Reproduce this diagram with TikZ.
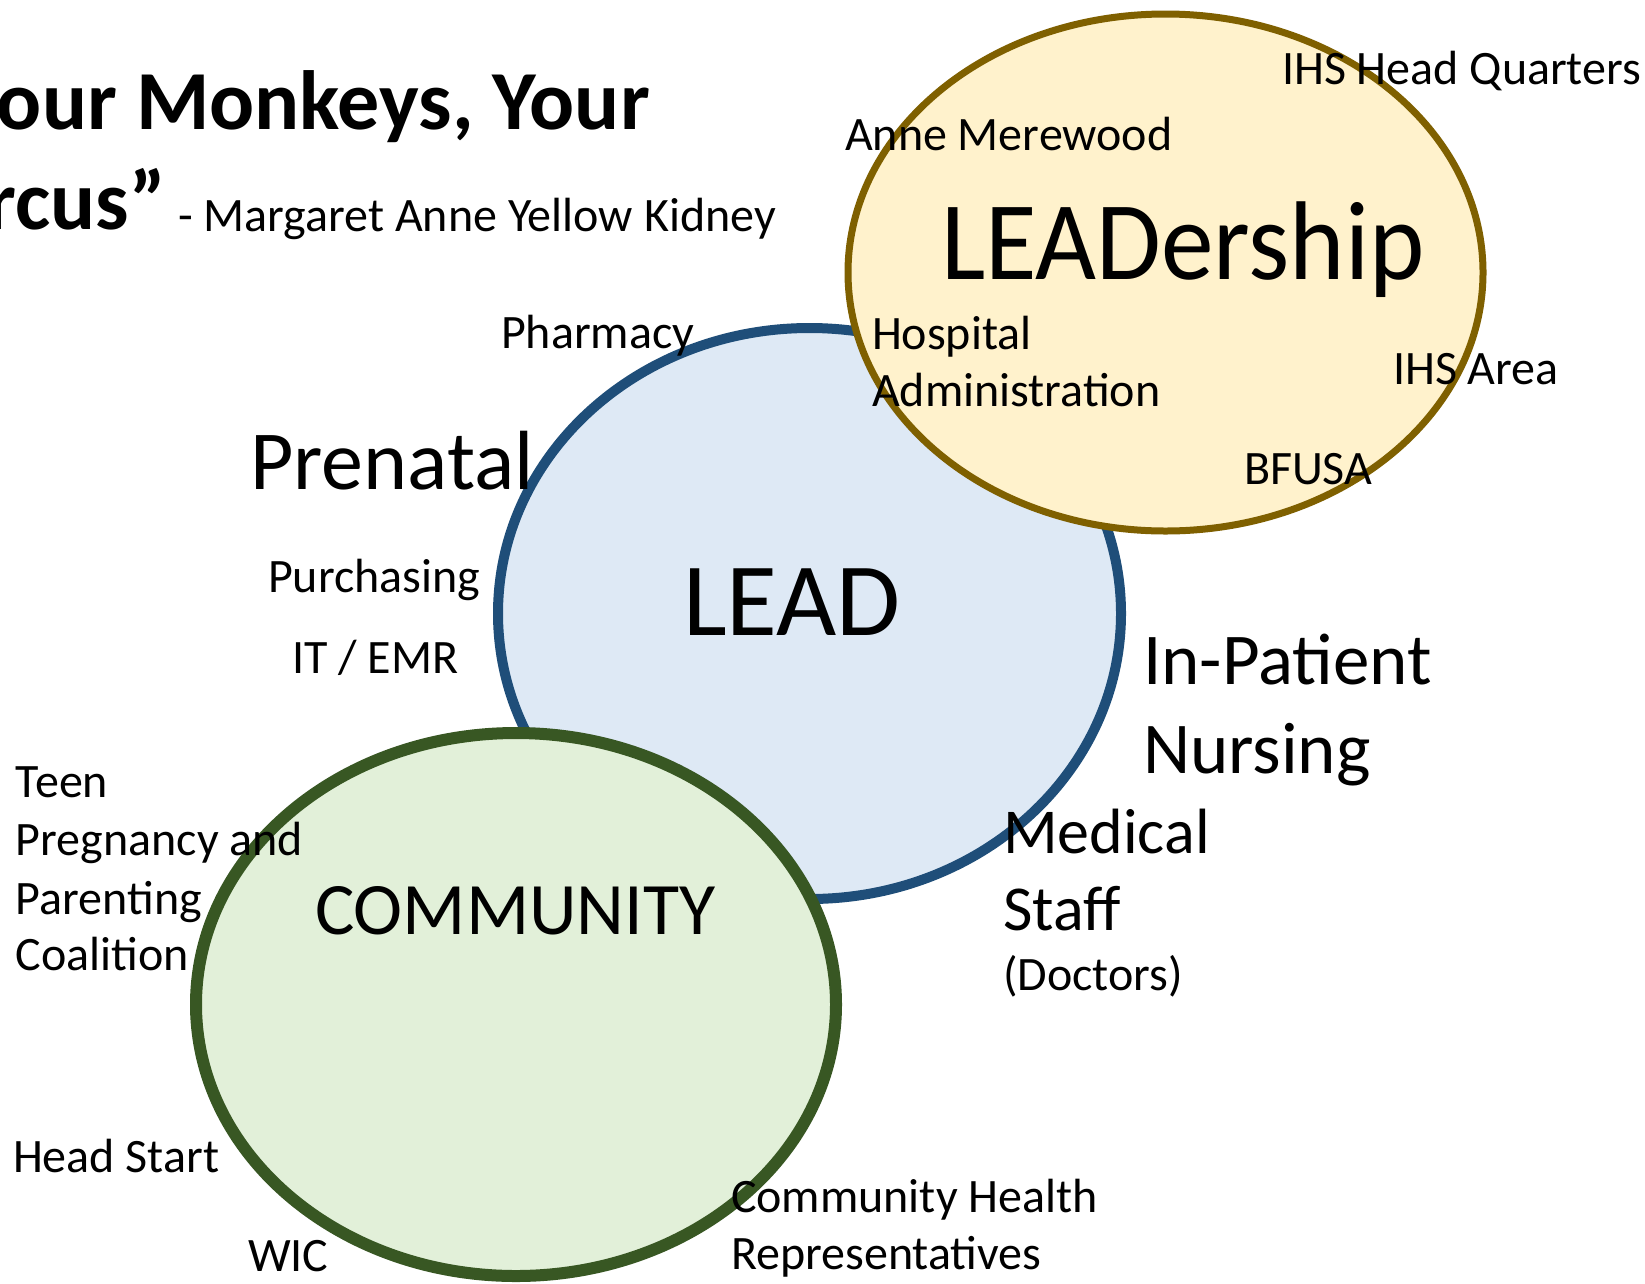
\documentclass[tikz,border=0pt]{standalone}
\usepackage{fontspec}
\setmainfont{Carlito}
\usepackage{xcolor}
\usetikzlibrary{positioning}

\definecolor{leadline}{HTML}{1F4E79}
\definecolor{leadfill}{HTML}{DEE9F5}
\definecolor{shipline}{HTML}{7F6000}
\definecolor{shipfill}{HTML}{FFF2CC}
\definecolor{commline}{HTML}{385723}
\definecolor{commfill}{HTML}{E2F0D9}

\tikzset{
  txt/.style={anchor=base west, inner sep=0pt, outer sep=0pt},
  smalltxt/.style={txt, font=\fontsize{48}{58}\selectfont},
  midtxt/.style={txt, font=\fontsize{73}{89}\selectfont},
}

\begin{document}
\begin{tikzpicture}[x=1pt, y=-1pt]

		\useasboundingbox (0, 0) rectangle (1645, 1283);

		% the three circles
		\draw[leadline, line width=10pt, fill=leadfill] (809.5, 613.5) ellipse (311.5 and 285.5);
		\draw[shipline, line width=7pt, fill=shipfill] (1165.5, 272.5) ellipse (317.5 and 258.5);
		\draw[commline, line width=12pt, fill=commfill] (516, 1004.5) ellipse (320 and 271.5);

		% quote
		\node[txt, font=\fontsize{84}{100}\selectfont\bfseries] (quote1) at (-3, 129) {our Monkeys, Your};
		\node[txt, font=\fontsize{84}{100}\selectfont\bfseries] (quote2) at (-13, 229) {rcus”};
		\node[txt, font=\fontsize{48}{58}\selectfont] (who) at (178, 231) {- Margaret Anne Yellow Kidney};

		% circle titles
		\node[txt, font=\fontsize{112}{130}\selectfont] (ship) at (941, 279) {\scalebox{0.94}[1]{LEADership}};
		\node[txt, font=\fontsize{104}{120}\selectfont] (lead) at (683, 635) {LEAD};
		\node[txt, font=\fontsize{74}{90}\selectfont] (comm) at (315, 934) {COMMUNITY};

		% leadership side
		\node[smalltxt] (ihshq) at (1282, 84) {IHS Head Quarters};
		\node[smalltxt] (anne) at (845, 150) {Anne Merewood};
		\node[smalltxt] (hosp1) at (872, 349) {Hospital};
		\node[smalltxt] (hosp2) at (872, 406) {Administration};
		\node[smalltxt] (ihsarea) at (1393, 384) {IHS Area};
		\node[smalltxt] (bfusa) at (1244, 484) {BFUSA};

		% lead side
		\node[smalltxt] (pharm) at (501, 348) {Pharmacy};
		\node[txt, font=\fontsize{84}{100}\selectfont] (prenatal) at (250, 489) {Prenatal};
		\node[smalltxt] (purch) at (268, 592) {Purchasing};
		\node[smalltxt] (itemr) at (292, 673) {IT / EMR};
		\node[midtxt] (inpat1) at (1143, 684) {In-Patient};
		\node[midtxt] (inpat2) at (1143, 773) {Nursing};
		\node[txt, font=\fontsize{64}{78}\selectfont] (med1) at (1003, 853) {Medical};
		\node[txt, font=\fontsize{64}{78}\selectfont] (med2) at (1003, 930) {Staff};
		\node[smalltxt] (docs) at (1003, 990) {(Doctors)};

		% community side
		\node[smalltxt] (teen1) at (16, 797) {Teen};
		\node[smalltxt] (teen2) at (16, 855) {Pregnancy and};
		\node[smalltxt] (teen3) at (16, 914) {Parenting};
		\node[smalltxt] (teen4) at (16, 970) {Coalition};
		\node[smalltxt] (headst) at (13, 1172) {Head Start};
		\node[smalltxt] (wic) at (248, 1271) {WIC};
		\node[smalltxt] (chr1) at (731, 1212) {Community Health};
		\node[smalltxt] (chr2) at (731, 1269) {Representatives};

	\end{tikzpicture}
\end{document}
